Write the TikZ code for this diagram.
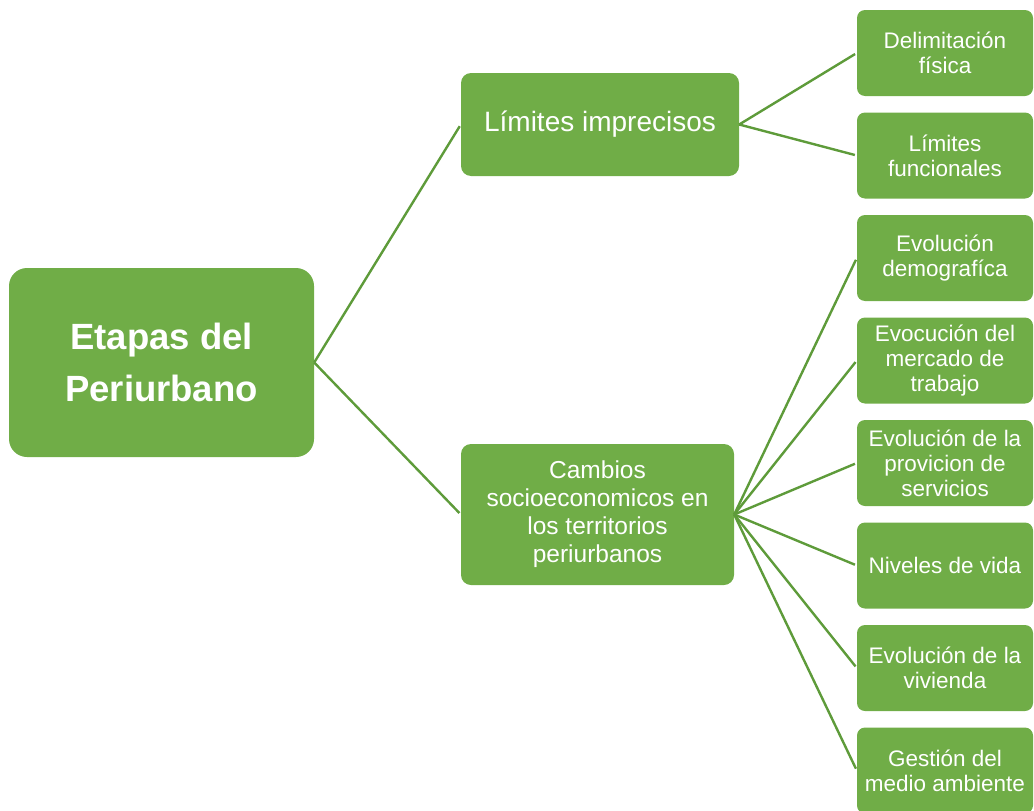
\documentclass[tikz,border=0pt]{standalone}
\usepackage{fontspec}
\setmainfont{Liberation Sans}
\definecolor{boxgreen}{HTML}{70AD47}
\definecolor{linegreen}{HTML}{5E9B3A}
\begin{document}
\begin{tikzpicture}[x=1pt,y=-1pt,
  gbox/.style={fill=boxgreen, draw=none, text=white, align=center, inner sep=0pt, rounded corners=#1},
  leaf/.style={gbox=8pt, minimum width=176pt, minimum height=86pt, font=\fontsize{22.5}{25}\selectfont},
  link/.style={draw=linegreen, line width=2.4pt, shorten >=2pt}]
\useasboundingbox (0,0) rectangle (1034,811);
\node[gbox=18pt, minimum width=305pt, minimum height=189pt, font=\fontsize{36.5}{52}\selectfont\bfseries] (root) at (161.5,362.5) {Etapas del\\Periurbano};
\node[gbox=10pt, minimum width=278pt, minimum height=103pt, font=\fontsize{28}{31}\selectfont] (lim) at (600,124.5) {Límites imprecisos};
\node[gbox=10pt, minimum width=273pt, minimum height=141pt, font=\fontsize{24.5}{28}\selectfont] (camb) at (597.5,514.5) {Cambios\\socioeconomicos en\\los territorios\\periurbanos};
\node[leaf] (l1) at (945,53) {Delimitación\\física};
\node[leaf] (l2) at (945,155.5) {Límites\\funcionales};
\node[leaf] (c1) at (945,258) {Evolución\\demografíca};
\node[leaf] (c2) at (945,360.5) {Evocución del\\mercado de\\trabajo};
\node[leaf] (c3) at (945,463) {Evolución de la\\provicion de\\servicios};
\node[leaf] (c4) at (945,565.5) {Niveles de vida};
\node[leaf] (c5) at (945,668) {Evolución de la\\vivienda};
\node[leaf] (c6) at (945,770.5) {Gestión del\\medio ambiente};
\draw[link] (root.east) -- (lim.west);
\draw[link] (root.east) -- (camb.west);
\draw[link] (lim.east) -- (l1.west);
\draw[link] (lim.east) -- (l2.west);
\foreach \n in {c1,c2,c3,c4,c5,c6}
  \draw[link] (camb.east) -- (\n.west);
\end{tikzpicture}
\end{document}
